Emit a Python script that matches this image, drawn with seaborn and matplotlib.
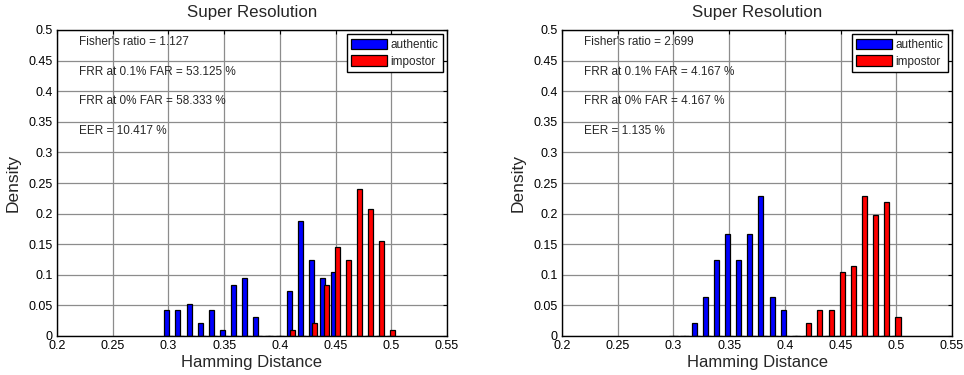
import matplotlib
matplotlib.use('Agg')
import matplotlib.pyplot as plt
import matplotlib.ticker as mticker
import pandas as pd
import seaborn as sns

# Bin centres (Hamming distance) shared by both panels
bins = [0.30, 0.31, 0.32, 0.33, 0.34, 0.35, 0.36, 0.37, 0.38, 0.39, 0.40,
        0.41, 0.42, 0.43, 0.44, 0.45, 0.46, 0.47, 0.48, 0.49, 0.50]

# Left panel densities
left_authentic = [0.042, 0.042, 0.052, 0.021, 0.042, 0.010, 0.083, 0.094, 0.031, 0.0, 0.0,
                  0.073, 0.188, 0.125, 0.094, 0.104, 0.0, 0.0, 0.0, 0.0, 0.0]
left_impostor = [0.0, 0.0, 0.0, 0.0, 0.0, 0.0, 0.0, 0.0, 0.0, 0.0, 0.0,
                 0.010, 0.0, 0.021, 0.083, 0.146, 0.125, 0.240, 0.208, 0.156, 0.010]

# Right panel densities
right_authentic = [0.0, 0.0, 0.021, 0.063, 0.125, 0.167, 0.125, 0.167, 0.229, 0.063, 0.042,
                   0.0, 0.0, 0.0, 0.0, 0.0, 0.0, 0.0, 0.0, 0.0, 0.0]
right_impostor = [0.0, 0.0, 0.0, 0.0, 0.0, 0.0, 0.0, 0.0, 0.0, 0.0, 0.0,
                  0.0, 0.021, 0.042, 0.042, 0.104, 0.115, 0.229, 0.198, 0.219, 0.031]

left_stats = ["Fisher's ratio = 1.127", "FRR at 0.1% FAR = 53.125 %",
              "FRR at 0% FAR = 58.333 %", "EER = 10.417 %"]
right_stats = ["Fisher's ratio = 2.699", "FRR at 0.1% FAR = 4.167 %",
               "FRR at 0% FAR = 4.167 %", "EER = 1.135 %"]

x_ticks = [0.2, 0.25, 0.3, 0.35, 0.4, 0.45, 0.5, 0.55]
y_ticks = [0, 0.05, 0.1, 0.15, 0.2, 0.25, 0.3, 0.35, 0.4, 0.45, 0.5]
stat_y = [0.48, 0.432, 0.384, 0.335]

sns.set_style('white')
plt.rcParams['font.family'] = ['Liberation Sans', 'DejaVu Sans']


def draw_panel(ax, authentic, impostor, stats):
    # grouped bars: authentic slightly left, impostor slightly right (they overlap a bit)
    df = pd.DataFrame({'bin': bins, 'authentic': authentic, 'impostor': impostor})
    df['x_auth'] = df['bin'] - 0.0015
    df['x_imp'] = df['bin'] + 0.0015

    sns.barplot(data=df, x='x_auth', y='authentic', native_scale=True, width=0.45,
                color='#0000ff', saturation=1, edgecolor='black', linewidth=0.9,
                label='authentic', ax=ax)
    sns.barplot(data=df, x='x_imp', y='impostor', native_scale=True, width=0.45,
                color='#ff0000', saturation=1, edgecolor='black', linewidth=0.9,
                label='impostor', ax=ax)

    ax.set_xlim(0.2, 0.55)
    ax.set_ylim(0, 0.5)
    ax.set_xticks(x_ticks)
    ax.set_yticks(y_ticks)
    ax.xaxis.set_major_formatter(mticker.FormatStrFormatter('%g'))
    ax.yaxis.set_major_formatter(mticker.FormatStrFormatter('%g'))
    ax.tick_params(direction='in', length=3, width=0.8, top=True, right=True,
                   labelsize=9, colors='black')
    ax.tick_params(axis='y', pad=3)
    ax.tick_params(axis='x', pad=3)
    ax.grid(True, color='#8c8c8c', linewidth=0.9)
    ax.set_axisbelow(True)
    for s in ax.spines.values():
        s.set_color('black')
        s.set_linewidth(1.0)

    ax.set_title('Super Resolution', fontsize=12.2, pad=9)
    ax.set_xlabel('Hamming Distance', fontsize=12, labelpad=2)
    ax.set_ylabel('Density', fontsize=12.5, labelpad=6)

    for txt, y in zip(stats, stat_y):
        ax.text(0.22, y, txt, fontsize=8.5, va='center', ha='left')

    ax.legend(loc='upper right', fontsize=8.5, fancybox=False, edgecolor='black',
              framealpha=1, handlelength=3.0, handleheight=1.0, borderpad=0.4,
              labelspacing=0.35, handletextpad=0.3, borderaxespad=0.35)


fig = plt.figure(figsize=(9.64, 3.75), dpi=100)
ax1 = fig.add_axes([0.0591, 0.104, 0.4046, 0.816])
ax2 = fig.add_axes([0.583, 0.104, 0.4046, 0.816])

draw_panel(ax1, left_authentic, left_impostor, left_stats)
draw_panel(ax2, right_authentic, right_impostor, right_stats)

fig.savefig('out.png', dpi=100)
